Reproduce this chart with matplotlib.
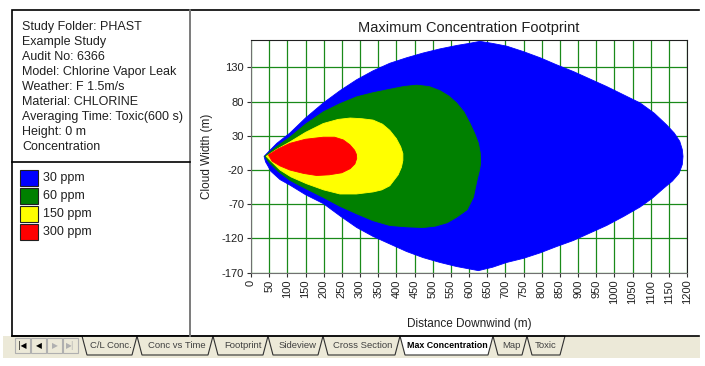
import matplotlib
matplotlib.use("Agg")
import matplotlib.pyplot as plt
from matplotlib.patches import Rectangle, Polygon

plt.rcParams['font.family'] = ['Liberation Sans', 'DejaVu Sans']
plt.rcParams['axes.unicode_minus'] = False

# info panel
info_lines = ["Study Folder: PHAST", "Example Study", "Audit No: 6366",
              "Model: Chlorine Vapor Leak", "Weather: F 1.5m/s", "Material: CHLORINE",
              "Averaging Time: Toxic(600 s)", "Height: 0 m", "Concentration"]
levels = ["30 ppm", "60 ppm", "150 ppm", "300 ppm"]
level_colors = ["#0000ff", "#008000", "#ffff00", "#ff0000"]

# footprint outlines (distance m, width m), upper edge then lower edge back
blue_x = [36, 71, 107, 150, 199, 245, 291, 336, 382, 428, 474, 520, 566, 600, 630, 665, 704, 750,
          796, 840, 887, 933, 979, 1025, 1071, 1110, 1144, 1165, 1180, 1187, 1189,
          1187, 1178, 1160, 1135, 1105, 1071, 1025, 979, 933, 887, 840, 796, 750, 704, 665, 626,
          596, 566, 520, 474, 428, 382, 336, 291, 245, 199, 150, 107, 80, 55, 40]
blue_y = [0, 19, 34, 56, 78, 96, 112, 125, 136, 144, 151, 157, 162, 165, 168, 165, 161, 153,
          144, 134, 124, 113, 102, 90, 78, 63, 46, 34, 22, 10, 0,
          -12, -25, -36, -47, -61, -74, -88, -101, -112, -123, -132, -141, -149, -155, -162, -167,
          -164, -161, -155, -148, -139, -128, -117, -104, -87, -69, -56, -42, -34, -22, -8]
green_x = [38, 70, 107, 150, 199, 245, 291, 336, 382, 420, 456, 490, 520, 545, 566, 586, 603,
           616, 626, 631, 632, 629, 622, 612, 595, 566, 540, 507, 474, 428, 382, 336, 291, 245,
           199, 150, 107, 75, 50]
green_y = [0, 14, 28, 47, 65, 77, 87, 93, 98, 102, 104, 102, 96, 88, 78, 65, 48,
           33, 19, 5, -10, -20, -35, -60, -78, -89, -97, -102, -104, -103, -101, -94, -84, -73,
           -60, -47, -35, -22, -9]
yellow_x = [42, 70, 107, 150, 199, 240, 273, 305, 336, 362, 382, 400, 412, 418, 418, 414, 405,
            382, 360, 336, 290, 245, 200, 153, 110, 80, 55]
yellow_y = [0, 10, 21, 35, 48, 54, 56, 55, 53, 47, 38, 26, 14, 4, -6, -16, -27,
            -43, -49, -52, -55, -55, -49, -40, -30, -20, -7]
red_x = [48, 75, 107, 150, 199, 230, 254, 272, 285, 290, 291, 286, 273, 250, 215, 181, 145,
         107, 80, 58]
red_y = [2, 11, 19, 25, 28, 28, 24, 17, 9, 3, -3, -11, -18, -24, -27, -28, -25,
         -20, -14, -7]

x_ticks = list(range(0, 1250, 50))
y_ticks = [-170, -120, -70, -20, 30, 80, 130]

tab_names = ["C/L Conc.", "Conc vs Time", "Footprint", "Sideview", "Cross Section",
             "Max Concentration", "Map", "Toxic"]
tab_edges = [82, 137, 213, 268, 323, 400, 493, 527, 565]
tab_text_x = [111, 177, 243, 298, 363, 447, 511, 546]
active_tab = 5

fig = plt.figure(figsize=(7.05, 3.66), dpi=100)
fig.patch.set_facecolor("white")

# pixel-space frame for the window decoration
frame = fig.add_axes([0, 0, 1, 1])
frame.set_xlim(0, 705)
frame.set_ylim(366, 0)
frame.axis("off")

frame.add_patch(Rectangle((3, 336), 697, 22, facecolor="#ece9d8", edgecolor="none"))
frame.add_patch(Rectangle((12, 10), 178, 326, facecolor="white", edgecolor="black", lw=1.2))
frame.plot([190, 699], [10, 10], color="black", lw=1.2)
frame.plot([12, 699], [336, 336], color="black", lw=1.2)
frame.plot([190, 190], [10, 336], color="#909090", lw=1.2)
frame.plot([12, 190], [162, 162], color="black", lw=1.2)

for i, line in enumerate(info_lines):
    frame.text(22, 27 + 15 * i, line, fontsize=9, va="center", ha="left", color="#202020")

for i, (lab, col) in enumerate(zip(levels, level_colors)):
    y0 = 170 + 18 * i
    frame.add_patch(Rectangle((20, y0), 18, 16, facecolor=col, edgecolor="#202020", lw=0.8))
    frame.text(43, y0 + 8, lab, fontsize=9, va="center", ha="left", color="#202020")

# navigation buttons
nav = ["|◀", "◀", "▶", "▶|"]
for i, g in enumerate(nav):
    bx = 15 + 16 * i
    frame.add_patch(Rectangle((bx, 338), 15, 15, facecolor="#ece9d8", edgecolor="#b0b0b0", lw=0.8))
    frame.text(bx + 7.5, 346, g, fontsize=5.5, ha="center", va="center",
               family="DejaVu Sans", color="black" if i < 2 else "#b0b0b0")

# tabs
order = [i for i in range(len(tab_names)) if i != active_tab] + [active_tab]
for i in order:
    x0, x1 = tab_edges[i], tab_edges[i + 1]
    act = i == active_tab
    frame.add_patch(Polygon([(x0, 336), (x0 + 5, 355), (x1 - 5, 355), (x1, 336)],
                            closed=True, facecolor="white" if act else "#ece9d8",
                            edgecolor="#303030", lw=0.8))
for i in range(len(tab_names)):
    act = i == active_tab
    frame.text(tab_text_x[i], 346, tab_names[i], fontsize=6.4 if act else 6.8,
               ha="center", va="center",
               fontweight="bold" if act else "normal", color="black" if act else "#404040")

# chart
ax = fig.add_axes([251 / 705, 1 - 272.7 / 366, 436 / 705, (272.7 - 40) / 366])
ax.set_xlim(0, 1200)
ax.set_ylim(-170, 170)
ax.set_xticks(x_ticks)
ax.set_xticklabels([str(v) for v in x_ticks], rotation=90)
ax.set_yticks(y_ticks)
ax.grid(True, color="#1a8a1a", lw=0.9)
ax.set_axisbelow(True)

for xs, ys, col in [(blue_x, blue_y, level_colors[0]), (green_x, green_y, level_colors[1]),
                    (yellow_x, yellow_y, level_colors[2]), (red_x, red_y, level_colors[3])]:
    ax.fill(xs, ys, color=col, lw=0.6, zorder=3)

ax.tick_params(labelsize=8, length=3, color="#303030", pad=2, labelcolor="#202020")
for s in ["left", "bottom"]:
    ax.spines[s].set_color("#707070")
for s in ["top", "right"]:
    ax.spines[s].set_color("#202020")

ax.set_title("Maximum Concentration Footprint", fontsize=10.5, color="#202020", pad=6)
ax.set_xlabel("Distance Downwind (m)", fontsize=8.5, color="#202020", labelpad=10)
ax.set_ylabel("Cloud Width (m)", fontsize=8.5, color="#202020", labelpad=6)

fig.savefig("out.png", dpi=100)
